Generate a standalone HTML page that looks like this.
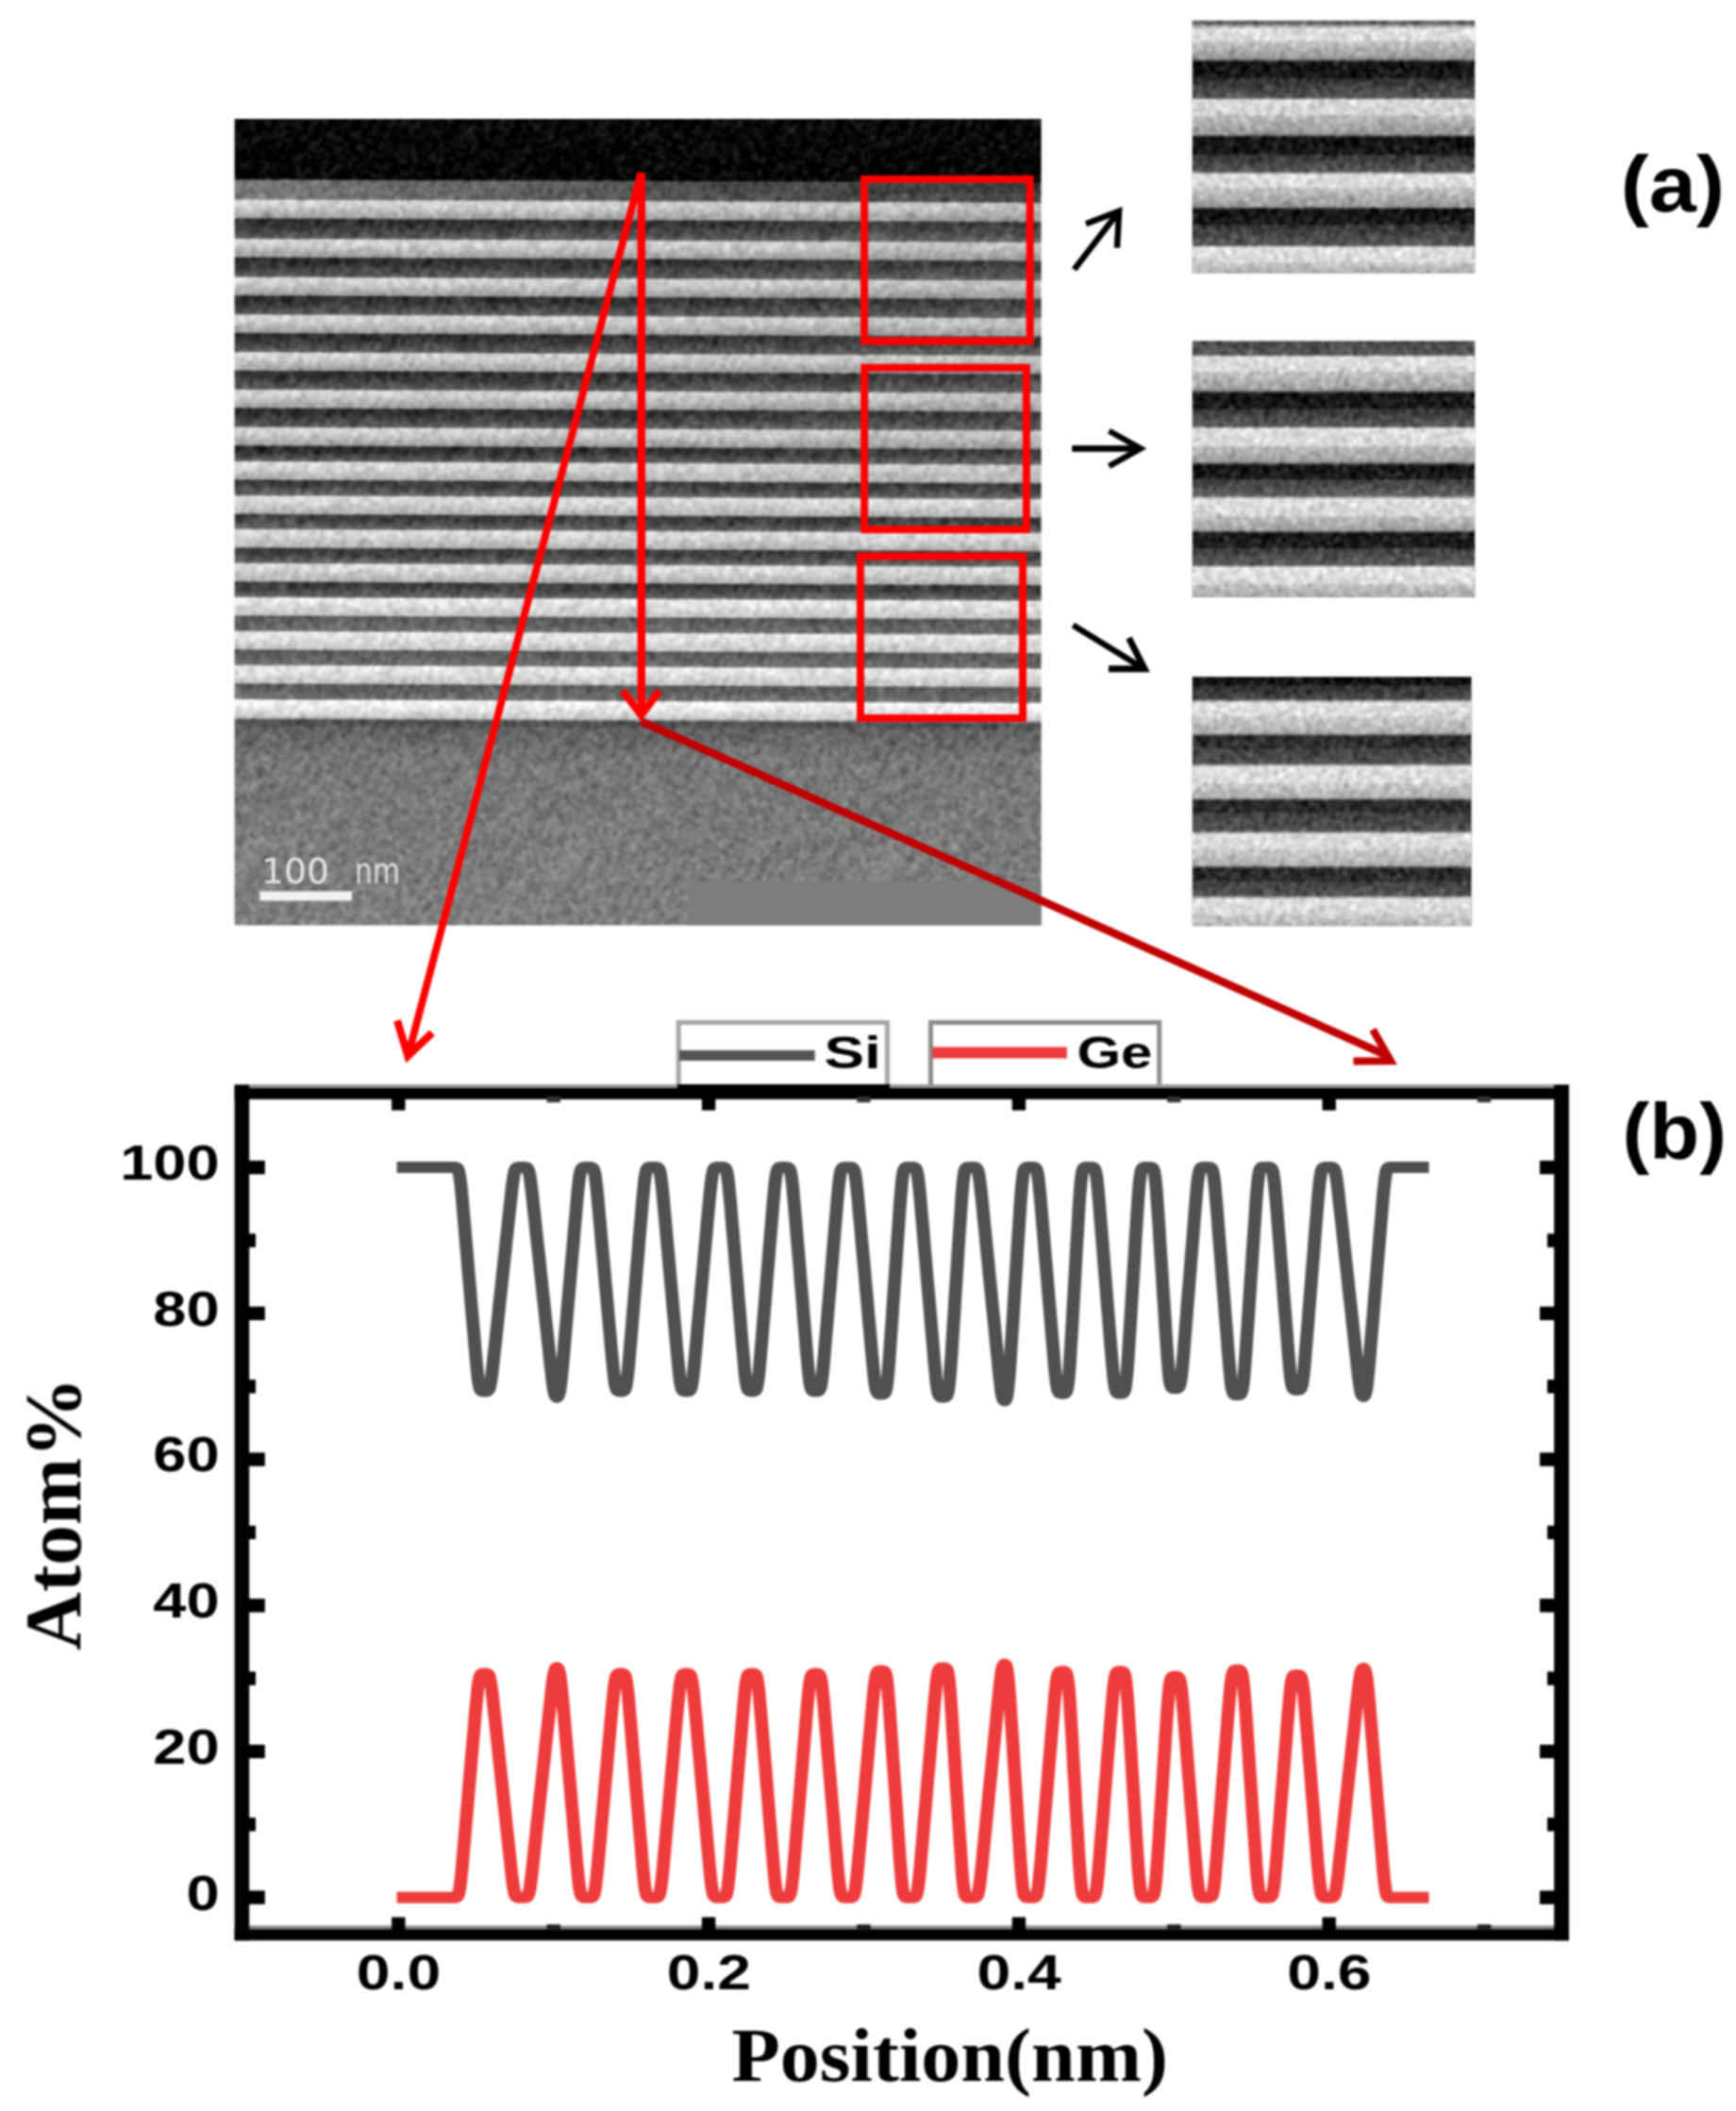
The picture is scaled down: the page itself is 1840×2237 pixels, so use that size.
<!DOCTYPE html>
<html lang="en"><head><meta charset="utf-8"><title>Si/Ge superlattice figure</title>
<style>html,body{margin:0;padding:0;background:#fff}svg{display:block}.sb{font-family:"Liberation Sans",sans-serif;font-weight:700}.tb{font-family:"Liberation Serif",serif;font-weight:700}.dv{font-family:"DejaVu Sans","Liberation Sans",sans-serif}</style></head><body>
<svg width="1840" height="2237" viewBox="0 0 1840 2237">
<defs>
<linearGradient id="gtem" gradientUnits="userSpaceOnUse" x1="0" y1="126.00" x2="0" y2="980.50"><stop offset="0.00000" stop-color="#090909"/><stop offset="0.07373" stop-color="#050505"/><stop offset="0.07665" stop-color="#606060"/><stop offset="0.09830" stop-color="#686868"/><stop offset="0.10181" stop-color="#d6d6d6"/><stop offset="0.10825" stop-color="#d0d0d0"/><stop offset="0.10825" stop-color="#d0d0d0"/><stop offset="0.12229" stop-color="#9e9e9e"/><stop offset="0.12463" stop-color="#2a2a2a"/><stop offset="0.13107" stop-color="#303030"/><stop offset="0.13107" stop-color="#303030"/><stop offset="0.14769" stop-color="#5c5c5c"/><stop offset="0.15003" stop-color="#d6d6d6"/><stop offset="0.15647" stop-color="#d0d0d0"/><stop offset="0.15647" stop-color="#d0d0d0"/><stop offset="0.17051" stop-color="#9e9e9e"/><stop offset="0.17285" stop-color="#2a2a2a"/><stop offset="0.17929" stop-color="#303030"/><stop offset="0.17929" stop-color="#303030"/><stop offset="0.19508" stop-color="#5c5c5c"/><stop offset="0.19743" stop-color="#d6d6d6"/><stop offset="0.20386" stop-color="#d0d0d0"/><stop offset="0.20386" stop-color="#d0d0d0"/><stop offset="0.21791" stop-color="#9e9e9e"/><stop offset="0.22025" stop-color="#2a2a2a"/><stop offset="0.22668" stop-color="#303030"/><stop offset="0.22668" stop-color="#303030"/><stop offset="0.24166" stop-color="#5c5c5c"/><stop offset="0.24400" stop-color="#d6d6d6"/><stop offset="0.25044" stop-color="#d0d0d0"/><stop offset="0.25044" stop-color="#d0d0d0"/><stop offset="0.26448" stop-color="#9e9e9e"/><stop offset="0.26682" stop-color="#2a2a2a"/><stop offset="0.27326" stop-color="#303030"/><stop offset="0.27326" stop-color="#303030"/><stop offset="0.28824" stop-color="#5c5c5c"/><stop offset="0.29058" stop-color="#d6d6d6"/><stop offset="0.29702" stop-color="#d0d0d0"/><stop offset="0.29702" stop-color="#d0d0d0"/><stop offset="0.31106" stop-color="#9e9e9e"/><stop offset="0.31340" stop-color="#2a2a2a"/><stop offset="0.31984" stop-color="#303030"/><stop offset="0.31984" stop-color="#303030"/><stop offset="0.33470" stop-color="#5c5c5c"/><stop offset="0.33704" stop-color="#d6d6d6"/><stop offset="0.34348" stop-color="#d0d0d0"/><stop offset="0.34348" stop-color="#d0d0d0"/><stop offset="0.35752" stop-color="#9e9e9e"/><stop offset="0.35986" stop-color="#2a2a2a"/><stop offset="0.36630" stop-color="#303030"/><stop offset="0.36630" stop-color="#303030"/><stop offset="0.38128" stop-color="#5c5c5c"/><stop offset="0.38362" stop-color="#d6d6d6"/><stop offset="0.39005" stop-color="#d0d0d0"/><stop offset="0.39005" stop-color="#d0d0d0"/><stop offset="0.40410" stop-color="#9e9e9e"/><stop offset="0.40644" stop-color="#2a2a2a"/><stop offset="0.41287" stop-color="#303030"/><stop offset="0.41287" stop-color="#303030"/><stop offset="0.42364" stop-color="#5c5c5c"/><stop offset="0.42598" stop-color="#dcdcdc"/><stop offset="0.43242" stop-color="#d6d6d6"/><stop offset="0.43242" stop-color="#d6d6d6"/><stop offset="0.44646" stop-color="#b0b0b0"/><stop offset="0.44880" stop-color="#3a3a3a"/><stop offset="0.45524" stop-color="#404040"/><stop offset="0.45524" stop-color="#404040"/><stop offset="0.46612" stop-color="#666666"/><stop offset="0.46846" stop-color="#dcdcdc"/><stop offset="0.47490" stop-color="#d6d6d6"/><stop offset="0.47490" stop-color="#d6d6d6"/><stop offset="0.48894" stop-color="#b0b0b0"/><stop offset="0.49128" stop-color="#3a3a3a"/><stop offset="0.49772" stop-color="#404040"/><stop offset="0.49772" stop-color="#404040"/><stop offset="0.50790" stop-color="#666666"/><stop offset="0.51024" stop-color="#dcdcdc"/><stop offset="0.51668" stop-color="#d6d6d6"/><stop offset="0.51668" stop-color="#d6d6d6"/><stop offset="0.53072" stop-color="#b0b0b0"/><stop offset="0.53306" stop-color="#3a3a3a"/><stop offset="0.53950" stop-color="#404040"/><stop offset="0.53950" stop-color="#404040"/><stop offset="0.55003" stop-color="#666666"/><stop offset="0.55237" stop-color="#dcdcdc"/><stop offset="0.55881" stop-color="#d6d6d6"/><stop offset="0.55881" stop-color="#d6d6d6"/><stop offset="0.57285" stop-color="#b0b0b0"/><stop offset="0.57519" stop-color="#3a3a3a"/><stop offset="0.58163" stop-color="#404040"/><stop offset="0.58163" stop-color="#404040"/><stop offset="0.59216" stop-color="#666666"/><stop offset="0.59450" stop-color="#e8e8e8"/><stop offset="0.60094" stop-color="#e2e2e2"/><stop offset="0.60094" stop-color="#e2e2e2"/><stop offset="0.61498" stop-color="#c4c4c4"/><stop offset="0.61732" stop-color="#585858"/><stop offset="0.62376" stop-color="#5e5e5e"/><stop offset="0.62376" stop-color="#5e5e5e"/><stop offset="0.63429" stop-color="#707070"/><stop offset="0.63663" stop-color="#e8e8e8"/><stop offset="0.64307" stop-color="#e2e2e2"/><stop offset="0.64307" stop-color="#e2e2e2"/><stop offset="0.65711" stop-color="#c4c4c4"/><stop offset="0.65945" stop-color="#585858"/><stop offset="0.66589" stop-color="#5e5e5e"/><stop offset="0.66589" stop-color="#5e5e5e"/><stop offset="0.67642" stop-color="#707070"/><stop offset="0.67876" stop-color="#e8e8e8"/><stop offset="0.68520" stop-color="#e2e2e2"/><stop offset="0.68520" stop-color="#e2e2e2"/><stop offset="0.69924" stop-color="#c4c4c4"/><stop offset="0.70158" stop-color="#585858"/><stop offset="0.70802" stop-color="#5e5e5e"/><stop offset="0.70802" stop-color="#5e5e5e"/><stop offset="0.71890" stop-color="#707070"/><stop offset="0.72124" stop-color="#f4f4f4"/><stop offset="0.72768" stop-color="#eeeeee"/><stop offset="0.72768" stop-color="#eeeeee"/><stop offset="0.74172" stop-color="#c8c8c8"/><stop offset="0.74605" stop-color="#4c4c4c"/><stop offset="0.75366" stop-color="#585858"/><stop offset="0.75366" stop-color="#606060"/><stop offset="0.78877" stop-color="#747474"/><stop offset="0.78877" stop-color="#767676"/><stop offset="1.00000" stop-color="#7e7e7e"/></linearGradient>
<linearGradient id="gin1" gradientUnits="userSpaceOnUse" x1="0" y1="21.80" x2="0" y2="289.30"><stop offset="0.00000" stop-color="#606060"/><stop offset="0.01383" stop-color="#646464"/><stop offset="0.01944" stop-color="#a0a0a0"/><stop offset="0.03065" stop-color="#c8c8c8"/><stop offset="0.03065" stop-color="#e0e0e0"/><stop offset="0.08112" stop-color="#dadada"/><stop offset="0.08112" stop-color="#c8c8c8"/><stop offset="0.15028" stop-color="#969696"/><stop offset="0.16523" stop-color="#121212"/><stop offset="0.22879" stop-color="#1a1a1a"/><stop offset="0.22879" stop-color="#2c2c2c"/><stop offset="0.30542" stop-color="#585858"/><stop offset="0.31477" stop-color="#dadada"/><stop offset="0.37607" stop-color="#d4d4d4"/><stop offset="0.37607" stop-color="#bebebe"/><stop offset="0.44935" stop-color="#969696"/><stop offset="0.46355" stop-color="#121212"/><stop offset="0.53084" stop-color="#1a1a1a"/><stop offset="0.53084" stop-color="#323232"/><stop offset="0.59701" stop-color="#585858"/><stop offset="0.61084" stop-color="#e0e0e0"/><stop offset="0.66243" stop-color="#d8d8d8"/><stop offset="0.66243" stop-color="#c4c4c4"/><stop offset="0.73720" stop-color="#969696"/><stop offset="0.74841" stop-color="#121212"/><stop offset="0.81009" stop-color="#1c1c1c"/><stop offset="0.81009" stop-color="#323232"/><stop offset="0.88860" stop-color="#585858"/><stop offset="0.89981" stop-color="#e0e0e0"/><stop offset="0.95738" stop-color="#d8d8d8"/><stop offset="0.95738" stop-color="#cccccc"/><stop offset="1.00000" stop-color="#aaaaaa"/></linearGradient>
<linearGradient id="gin2" gradientUnits="userSpaceOnUse" x1="0" y1="361.40" x2="0" y2="632.80"><stop offset="0.00000" stop-color="#464646"/><stop offset="0.05195" stop-color="#585858"/><stop offset="0.06301" stop-color="#e0e0e0"/><stop offset="0.11975" stop-color="#d8d8d8"/><stop offset="0.11975" stop-color="#c4c4c4"/><stop offset="0.19013" stop-color="#9e9e9e"/><stop offset="0.20523" stop-color="#141414"/><stop offset="0.26492" stop-color="#1c1c1c"/><stop offset="0.26492" stop-color="#343434"/><stop offset="0.33198" stop-color="#5a5a5a"/><stop offset="0.34304" stop-color="#e0e0e0"/><stop offset="0.41010" stop-color="#d6d6d6"/><stop offset="0.41010" stop-color="#bebebe"/><stop offset="0.47015" stop-color="#9e9e9e"/><stop offset="0.48674" stop-color="#141414"/><stop offset="0.54016" stop-color="#1e1e1e"/><stop offset="0.54016" stop-color="#3c3c3c"/><stop offset="0.60280" stop-color="#606060"/><stop offset="0.61791" stop-color="#e0e0e0"/><stop offset="0.68534" stop-color="#d6d6d6"/><stop offset="0.68534" stop-color="#c0c0c0"/><stop offset="0.73729" stop-color="#a0a0a0"/><stop offset="0.75166" stop-color="#181818"/><stop offset="0.80766" stop-color="#202020"/><stop offset="0.80766" stop-color="#3c3c3c"/><stop offset="0.87362" stop-color="#5c5c5c"/><stop offset="0.88467" stop-color="#e4e4e4"/><stop offset="0.94878" stop-color="#d8d8d8"/><stop offset="0.94878" stop-color="#c4c4c4"/><stop offset="1.00000" stop-color="#a8a8a8"/></linearGradient>
<linearGradient id="gin3" gradientUnits="userSpaceOnUse" x1="0" y1="717.20" x2="0" y2="981.20"><stop offset="0.00000" stop-color="#0e0e0e"/><stop offset="0.03371" stop-color="#161616"/><stop offset="0.03371" stop-color="#2c2c2c"/><stop offset="0.08826" stop-color="#484848"/><stop offset="0.10455" stop-color="#e0e0e0"/><stop offset="0.15947" stop-color="#dadada"/><stop offset="0.15947" stop-color="#cccccc"/><stop offset="0.22462" stop-color="#b0b0b0"/><stop offset="0.24015" stop-color="#2a2a2a"/><stop offset="0.28523" stop-color="#303030"/><stop offset="0.28523" stop-color="#3e3e3e"/><stop offset="0.34583" stop-color="#525252"/><stop offset="0.36212" stop-color="#e0e0e0"/><stop offset="0.42652" stop-color="#dadada"/><stop offset="0.42652" stop-color="#cccccc"/><stop offset="0.48409" stop-color="#b0b0b0"/><stop offset="0.49886" stop-color="#282828"/><stop offset="0.54432" stop-color="#2e2e2e"/><stop offset="0.54432" stop-color="#3e3e3e"/><stop offset="0.61667" stop-color="#525252"/><stop offset="0.63220" stop-color="#dedede"/><stop offset="0.69356" stop-color="#d8d8d8"/><stop offset="0.69356" stop-color="#cccccc"/><stop offset="0.75492" stop-color="#b0b0b0"/><stop offset="0.77045" stop-color="#282828"/><stop offset="0.81932" stop-color="#2e2e2e"/><stop offset="0.81932" stop-color="#3e3e3e"/><stop offset="0.87614" stop-color="#525252"/><stop offset="0.89242" stop-color="#e0e0e0"/><stop offset="0.95265" stop-color="#d8d8d8"/><stop offset="0.95265" stop-color="#cecece"/><stop offset="1.00000" stop-color="#b4b4b4"/></linearGradient>
<linearGradient id="gdim" x1="0" y1="0" x2="1" y2="0"><stop offset="0" stop-color="#787878"/><stop offset="0.25" stop-color="#686868"/><stop offset="0.5" stop-color="#525252"/><stop offset="0.8" stop-color="#404040"/><stop offset="1" stop-color="#3a3a3a"/></linearGradient>
<linearGradient id="gfade" x1="0" y1="0" x2="1" y2="0"><stop offset="0" stop-color="#808080" stop-opacity="0"/><stop offset="0.45" stop-color="#808080" stop-opacity="0.04"/><stop offset="1" stop-color="#808080" stop-opacity="0.22"/></linearGradient>
<clipPath id="ctem"><rect x="248.6" y="126.0" width="855.0" height="854.5"/></clipPath>
<filter id="noise" x="0" y="0" width="100%" height="100%" color-interpolation-filters="sRGB"><feTurbulence type="fractalNoise" baseFrequency="0.75" numOctaves="1" seed="5" result="t"/><feGaussianBlur in="t" stdDeviation="2.0" result="tb"/><feColorMatrix in="tb" type="matrix" values="1 0 0 0 0  1 0 0 0 0  1 0 0 0 0  0 0 0 0 1" result="n"/><feComposite in="SourceGraphic" in2="n" operator="arithmetic" k1="0" k2="1" k3="5.5" k4="-2.75"/><feComposite in2="SourceGraphic" operator="in"/></filter>
<filter id="noise2" x="0" y="0" width="100%" height="100%" color-interpolation-filters="sRGB"><feTurbulence type="fractalNoise" baseFrequency="0.6" numOctaves="1" seed="9" result="t"/><feGaussianBlur in="t" stdDeviation="2.2" result="tb"/><feColorMatrix in="tb" type="matrix" values="1 0 0 0 0  1 0 0 0 0  1 0 0 0 0  0 0 0 0 1" result="n"/><feComposite in="SourceGraphic" in2="n" operator="arithmetic" k1="0" k2="1" k3="5.225" k4="-2.6125"/><feComposite in2="SourceGraphic" operator="in"/></filter>
<filter id="allblur" x="0" y="0" width="100%" height="100%" filterUnits="userSpaceOnUse" color-interpolation-filters="sRGB"><feGaussianBlur stdDeviation="0.85"/></filter>
<filter id="soft"><feGaussianBlur stdDeviation="0.7"/></filter>
</defs>
<rect width="1840" height="2237" fill="#fff"/>
<g filter="url(#allblur)">
<g clip-path="url(#ctem)"><g filter="url(#noise)">
<rect x="248.6" y="126.0" width="855.0" height="854.5" fill="#777"/>
<g transform="translate(0,-1.35) skewY(0.26)">
<rect x="200" y="100" width="960" height="920" fill="url(#gtem)"/>
<rect x="248.6" y="191.2" width="855.0" height="19.3" fill="url(#gdim)"/>
</g>
<rect x="248.6" y="205" width="855.0" height="300" fill="url(#gfade)"/>
</g>
<rect x="729" y="933.6" width="380" height="50" fill="#7d7d7d"/>
</g>
<rect x="275.5" y="944.5" width="97.5" height="10" fill="#f2f2f2" stroke="#bdbdbd" stroke-width="1"/>
<g filter="url(#soft)"><text class="dv" x="277" y="935.5" font-size="38" fill="#e6e6e6" textLength="72" lengthAdjust="spacingAndGlyphs">100</text><text class="dv" x="376" y="935.5" font-size="38" fill="#e0e0e0" textLength="48" lengthAdjust="spacingAndGlyphs">nm</text></g>
<g filter="url(#noise2)">
<rect x="1263.8" y="21.8" width="299.4" height="267.5" fill="url(#gin1)"/>
<rect x="1263.8" y="361.4" width="299.4" height="271.4" fill="url(#gin2)"/>
<rect x="1263.8" y="717.2" width="295.7" height="264.0" fill="url(#gin3)"/>
</g>
<rect x="916.1" y="189.9" width="175.6" height="171.5" fill="none" stroke="#ff0000" stroke-width="8"/>
<rect x="916.2" y="389.6" width="171.7" height="171.5" fill="none" stroke="#ff0000" stroke-width="8"/>
<rect x="912.0" y="589.5" width="172.0" height="171.5" fill="none" stroke="#ff0000" stroke-width="8"/>
<g fill="none" stroke="#ff0000" stroke-width="8.5" stroke-linecap="butt" stroke-linejoin="miter" stroke-miterlimit="10">
<path d="M679.8,183 L679.8,756"/>
<path d="M660,732 L679.6,757.8 L699,732" stroke-width="8"/>
<path d="M679.5,183 L433.2,1116" stroke-width="7.9"/>
<path d="M421,1081.5 L432.3,1119 L458,1094.5" stroke-width="8"/>
</g>
<g fill="none" stroke="#c00000" stroke-width="8.5" stroke-miterlimit="10">
<path d="M679.5,764.3 L1468,1117.6"/>
<path d="M1455,1091 L1474,1124.3 L1434.5,1124.5" stroke-width="8"/>
</g>
<g fill="none" stroke="#000" stroke-linecap="butt" stroke-miterlimit="10">
<path d="M1138.5,285.6 L1183.5,227.2" stroke-width="6.4"/><path d="M1151,237.2 L1186.1,223.8 L1184,262.6" stroke-width="6.4"/>
<path d="M1136.2,475.3 L1205,475.3" stroke-width="6.8"/><path d="M1175.5,456.6 L1209,475.3 L1175.5,494" stroke-width="6.2"/>
<path d="M1137.3,662.5 L1208,706" stroke-width="6.4"/><path d="M1196.5,676 L1213.1,708.7 L1175,708.7" stroke-width="7"/>
</g>
<text class="sb" transform="translate(1717.8,224) scale(1.087,1)" font-size="83">(a)</text>
<text class="sb" transform="translate(1719.4,1227.5) scale(1.045,1)" font-size="83">(b)</text>
<rect x="719.2" y="1083.5" width="221.2" height="70" fill="#fff" stroke="#a6a6a6" stroke-width="5"/>
<rect x="986.5" y="1083.5" width="242.3" height="70" fill="#fff" stroke="#8c8c8c" stroke-width="5"/>
<line x1="720" y1="1118.5" x2="863.7" y2="1118.5" stroke="#555" stroke-width="11"/>
<line x1="988.4" y1="1115.6" x2="1131" y2="1115.6" stroke="#ee3c3c" stroke-width="12"/>
<text class="sb" transform="translate(873.4,1132) scale(1.35,1)" font-size="47.4">Si</text>
<text class="sb" transform="translate(1141.4,1132) scale(1.265,1)" font-size="47.4">Ge</text>
<g transform="scale(1.15,1)" fill="none" stroke-width="12" stroke-linejoin="round">
<path d="M365.7,1237.1 L366.5,1237.1 L367.4,1237.1 L368.3,1237.1 L369.1,1237.1 L370.0,1237.1 L370.9,1237.1 L371.7,1237.1 L372.6,1237.1 L373.5,1237.1 L374.3,1237.1 L375.2,1237.1 L376.1,1237.1 L377.0,1237.1 L377.8,1237.1 L378.7,1237.1 L379.6,1237.1 L380.4,1237.1 L381.3,1237.1 L382.2,1237.1 L383.0,1237.1 L383.9,1237.1 L384.8,1237.1 L385.7,1237.1 L386.5,1237.1 L387.4,1237.1 L388.3,1237.1 L389.1,1237.1 L390.0,1237.1 L390.9,1237.1 L391.7,1237.1 L392.6,1237.1 L393.5,1237.1 L394.3,1237.1 L395.2,1237.1 L396.1,1237.1 L397.0,1237.1 L397.8,1237.1 L398.7,1237.1 L399.6,1237.1 L400.4,1237.1 L401.3,1237.1 L402.2,1237.1 L403.0,1237.1 L403.9,1237.1 L404.8,1237.1 L405.7,1237.1 L406.5,1237.1 L407.4,1237.1 L408.3,1237.1 L409.1,1237.1 L410.0,1237.1 L410.9,1237.1 L411.7,1237.1 L412.6,1237.1 L413.5,1237.1 L414.3,1237.1 L415.2,1237.1 L416.1,1237.1 L417.0,1237.1 L417.8,1237.1 L418.7,1237.1 L419.6,1237.1 L420.4,1237.2 L421.3,1237.7 L422.2,1239.1 L423.0,1242.3 L423.9,1248.1 L424.8,1256.4 L425.7,1266.6 L426.5,1277.7 L427.4,1289.2 L428.3,1300.7 L429.1,1312.3 L430.0,1323.8 L430.9,1335.4 L431.7,1347.0 L432.6,1358.5 L433.5,1370.1 L434.3,1381.7 L435.2,1393.2 L436.1,1404.8 L437.0,1416.4 L437.8,1427.9 L438.7,1439.2 L439.6,1449.9 L440.4,1459.3 L441.3,1466.4 L442.2,1470.9 L443.0,1473.1 L443.9,1473.9 L444.8,1474.2 L445.7,1474.2 L446.5,1474.2 L447.4,1474.2 L448.3,1474.2 L449.1,1474.0 L450.0,1473.3 L450.9,1471.5 L451.7,1467.9 L452.6,1462.2 L453.5,1454.7 L454.3,1446.1 L455.2,1437.0 L456.1,1427.7 L457.0,1418.4 L457.8,1409.1 L458.7,1399.8 L459.6,1390.5 L460.4,1381.2 L461.3,1371.9 L462.2,1362.6 L463.0,1353.3 L463.9,1344.0 L464.8,1334.7 L465.7,1325.4 L466.5,1316.1 L467.4,1306.8 L468.3,1297.5 L469.1,1288.2 L470.0,1279.0 L470.9,1269.8 L471.7,1260.8 L472.6,1252.7 L473.5,1246.0 L474.3,1241.3 L475.2,1238.7 L476.1,1237.6 L477.0,1237.2 L477.8,1237.1 L478.7,1237.1 L479.6,1237.1 L480.4,1237.1 L481.3,1237.1 L482.2,1237.1 L483.0,1237.1 L483.9,1237.1 L484.8,1237.2 L485.7,1237.6 L486.5,1238.7 L487.4,1241.3 L488.3,1245.9 L489.1,1252.6 L490.0,1260.8 L490.9,1269.7 L491.7,1278.9 L492.6,1288.1 L493.5,1297.4 L494.3,1306.7 L495.2,1316.0 L496.1,1325.3 L497.0,1334.5 L497.8,1343.8 L498.7,1353.1 L499.6,1362.4 L500.4,1371.7 L501.3,1380.9 L502.2,1390.2 L503.0,1399.5 L503.9,1408.8 L504.8,1418.1 L505.7,1427.3 L506.5,1436.6 L507.4,1445.8 L508.3,1454.9 L509.1,1463.3 L510.0,1470.5 L510.9,1475.7 L511.7,1478.9 L512.6,1480.4 L513.5,1480.6 L514.3,1479.7 L515.2,1477.1 L516.1,1472.2 L517.0,1464.6 L517.8,1455.1 L518.7,1444.3 L519.6,1433.0 L520.4,1421.6 L521.3,1410.1 L522.2,1398.7 L523.0,1387.2 L523.9,1375.8 L524.8,1364.3 L525.7,1352.8 L526.5,1341.4 L527.4,1329.9 L528.3,1318.5 L529.1,1307.0 L530.0,1295.5 L530.9,1284.1 L531.7,1272.9 L532.6,1262.2 L533.5,1252.7 L534.3,1245.5 L535.2,1240.8 L536.1,1238.4 L537.0,1237.5 L537.8,1237.2 L538.7,1237.1 L539.6,1237.1 L540.4,1237.1 L541.3,1237.1 L542.2,1237.1 L543.0,1237.1 L543.9,1237.1 L544.8,1237.1 L545.7,1237.4 L546.5,1238.1 L547.4,1240.0 L548.3,1244.1 L549.1,1250.6 L550.0,1259.4 L550.9,1269.6 L551.7,1280.4 L552.6,1291.4 L553.5,1302.5 L554.3,1313.6 L555.2,1324.6 L556.1,1335.7 L557.0,1346.8 L557.8,1357.9 L558.7,1368.9 L559.6,1380.0 L560.4,1391.1 L561.3,1402.2 L562.2,1413.3 L563.0,1424.3 L563.9,1435.3 L564.8,1445.9 L565.7,1455.7 L566.5,1463.7 L567.4,1469.2 L568.3,1472.3 L569.1,1473.6 L570.0,1474.1 L570.9,1474.2 L571.7,1474.2 L572.6,1474.2 L573.5,1474.2 L574.3,1474.1 L575.2,1473.6 L576.1,1472.2 L577.0,1468.8 L577.8,1462.9 L578.7,1454.4 L579.6,1444.0 L580.4,1432.6 L581.3,1420.8 L582.2,1409.0 L583.0,1397.1 L583.9,1385.3 L584.8,1373.4 L585.7,1361.6 L586.5,1349.7 L587.4,1337.9 L588.3,1326.0 L589.1,1314.2 L590.0,1302.3 L590.9,1290.5 L591.7,1278.7 L592.6,1267.3 L593.5,1256.9 L594.3,1248.4 L595.2,1242.5 L596.1,1239.1 L597.0,1237.7 L597.8,1237.2 L598.7,1237.1 L599.6,1237.1 L600.4,1237.1 L601.3,1237.1 L602.2,1237.1 L603.0,1237.1 L603.9,1237.1 L604.8,1237.1 L605.7,1237.2 L606.5,1237.7 L607.4,1239.0 L608.3,1242.1 L609.1,1247.7 L610.0,1255.6 L610.9,1265.4 L611.7,1276.0 L612.6,1287.0 L613.5,1298.0 L614.3,1309.1 L615.2,1320.2 L616.1,1331.3 L617.0,1342.4 L617.8,1353.4 L618.7,1364.5 L619.6,1375.6 L620.4,1386.7 L621.3,1397.8 L622.2,1408.8 L623.0,1419.9 L623.9,1430.9 L624.8,1441.7 L625.7,1451.9 L626.5,1460.7 L627.4,1467.2 L628.3,1471.3 L629.1,1473.2 L630.0,1474.0 L630.9,1474.2 L631.7,1474.2 L632.6,1474.2 L633.5,1474.2 L634.3,1474.1 L635.2,1473.9 L636.1,1473.0 L637.0,1470.7 L637.8,1466.2 L638.7,1459.2 L639.6,1450.2 L640.4,1439.9 L641.3,1429.2 L642.2,1418.2 L643.0,1407.2 L643.9,1396.3 L644.8,1385.3 L645.7,1374.3 L646.5,1363.3 L647.4,1352.4 L648.3,1341.4 L649.1,1330.4 L650.0,1319.4 L650.9,1308.5 L651.7,1297.5 L652.6,1286.5 L653.5,1275.6 L654.3,1265.1 L655.2,1255.5 L656.1,1247.6 L657.0,1242.1 L657.8,1239.0 L658.7,1237.7 L659.6,1237.2 L660.4,1237.1 L661.3,1237.1 L662.2,1237.1 L663.0,1237.1 L663.9,1237.1 L664.8,1237.1 L665.7,1237.1 L666.5,1237.1 L667.4,1237.2 L668.3,1237.7 L669.1,1239.1 L670.0,1242.5 L670.9,1248.4 L671.7,1256.9 L672.6,1267.3 L673.5,1278.7 L674.3,1290.5 L675.2,1302.3 L676.1,1314.2 L677.0,1326.0 L677.8,1337.9 L678.7,1349.7 L679.6,1361.6 L680.4,1373.4 L681.3,1385.3 L682.2,1397.1 L683.0,1409.0 L683.9,1420.8 L684.8,1432.6 L685.7,1444.0 L686.5,1454.4 L687.4,1462.9 L688.3,1468.8 L689.1,1472.2 L690.0,1473.6 L690.9,1474.1 L691.7,1474.2 L692.6,1474.2 L693.5,1474.2 L694.3,1474.2 L695.2,1474.1 L696.1,1473.6 L697.0,1472.1 L697.8,1468.7 L698.7,1462.7 L699.6,1454.0 L700.4,1443.3 L701.3,1431.7 L702.2,1419.7 L703.0,1407.7 L703.9,1395.6 L704.8,1383.5 L705.7,1371.4 L706.5,1359.3 L707.4,1347.2 L708.3,1335.1 L709.1,1323.0 L710.0,1310.9 L710.9,1298.8 L711.7,1286.8 L712.6,1274.9 L713.5,1263.6 L714.3,1253.6 L715.2,1245.9 L716.1,1241.0 L717.0,1238.5 L717.8,1237.5 L718.7,1237.2 L719.6,1237.1 L720.4,1237.1 L721.3,1237.1 L722.2,1237.1 L723.0,1237.1 L723.9,1237.1 L724.8,1237.1 L725.7,1237.2 L726.5,1237.4 L727.4,1238.2 L728.3,1240.3 L729.1,1244.6 L730.0,1251.6 L730.9,1261.1 L731.7,1272.0 L732.6,1283.6 L733.5,1295.5 L734.3,1307.4 L735.2,1319.3 L736.1,1331.2 L737.0,1343.1 L737.8,1355.1 L738.7,1367.0 L739.6,1378.9 L740.4,1390.8 L741.3,1402.7 L742.2,1414.6 L743.0,1426.5 L743.9,1438.2 L744.8,1449.2 L745.7,1458.9 L746.5,1466.2 L747.4,1470.8 L748.3,1473.0 L749.1,1473.9 L750.0,1474.1 L750.9,1474.2 L751.7,1474.2 L752.6,1474.2 L753.5,1474.1 L754.3,1473.9 L755.2,1473.0 L756.1,1470.8 L757.0,1466.2 L757.8,1458.9 L758.7,1449.2 L759.6,1438.2 L760.4,1426.5 L761.3,1414.6 L762.2,1402.7 L763.0,1390.8 L763.9,1378.9 L764.8,1367.0 L765.7,1355.1 L766.5,1343.1 L767.4,1331.2 L768.3,1319.3 L769.1,1307.4 L770.0,1295.5 L770.9,1283.6 L771.7,1272.0 L772.6,1261.1 L773.5,1251.6 L774.3,1244.6 L775.2,1240.3 L776.1,1238.2 L777.0,1237.4 L777.8,1237.2 L778.7,1237.1 L779.6,1237.1 L780.4,1237.1 L781.3,1237.1 L782.2,1237.1 L783.0,1237.1 L783.9,1237.1 L784.8,1237.2 L785.7,1237.4 L786.5,1238.4 L787.4,1240.7 L788.3,1245.2 L789.1,1252.3 L790.0,1261.4 L790.9,1271.8 L791.7,1282.7 L792.6,1293.8 L793.5,1304.9 L794.3,1316.1 L795.2,1327.2 L796.1,1338.3 L797.0,1349.4 L797.8,1360.5 L798.7,1371.7 L799.6,1382.8 L800.4,1393.9 L801.3,1405.0 L802.2,1416.1 L803.0,1427.2 L803.9,1438.3 L804.8,1448.9 L805.7,1458.7 L806.5,1466.7 L807.4,1472.3 L808.3,1475.4 L809.1,1476.7 L810.0,1477.2 L810.9,1477.3 L811.7,1477.3 L812.6,1477.3 L813.5,1477.3 L814.3,1477.1 L815.2,1476.6 L816.1,1474.8 L817.0,1470.8 L817.8,1463.5 L818.7,1453.1 L819.6,1440.4 L820.4,1426.5 L821.3,1412.2 L822.2,1397.7 L823.0,1383.2 L823.9,1368.8 L824.8,1354.3 L825.7,1339.8 L826.5,1325.4 L827.4,1310.9 L828.3,1296.5 L829.1,1282.3 L830.0,1268.8 L830.9,1256.9 L831.7,1247.6 L832.6,1241.7 L833.5,1238.7 L834.3,1237.5 L835.2,1237.2 L836.1,1237.1 L837.0,1237.1 L837.8,1237.1 L838.7,1237.1 L839.6,1237.1 L840.4,1237.1 L841.3,1237.1 L842.2,1237.1 L843.0,1237.4 L843.9,1238.1 L844.8,1240.2 L845.7,1244.4 L846.5,1251.2 L847.4,1260.4 L848.3,1271.1 L849.1,1282.4 L850.0,1293.9 L850.9,1305.5 L851.7,1317.0 L852.6,1328.6 L853.5,1340.2 L854.3,1351.8 L855.2,1363.4 L856.1,1375.0 L857.0,1386.6 L857.8,1398.1 L858.7,1409.7 L859.6,1421.3 L860.4,1432.8 L861.3,1444.2 L862.2,1455.0 L863.0,1464.6 L863.9,1472.0 L864.8,1476.7 L865.7,1479.1 L866.5,1480.0 L867.4,1480.3 L868.3,1480.4 L869.1,1480.4 L870.0,1480.4 L870.9,1480.3 L871.7,1480.0 L872.6,1479.0 L873.5,1476.3 L874.3,1470.7 L875.2,1461.5 L876.1,1449.2 L877.0,1435.0 L877.8,1419.9 L878.7,1404.4 L879.6,1389.0 L880.4,1373.5 L881.3,1358.0 L882.2,1342.5 L883.0,1327.0 L883.9,1311.5 L884.8,1296.1 L885.7,1281.0 L886.5,1267.0 L887.4,1255.0 L888.3,1246.2 L889.1,1240.8 L890.0,1238.3 L890.9,1237.4 L891.7,1237.2 L892.6,1237.1 L893.5,1237.1 L894.3,1237.1 L895.2,1237.1 L896.1,1237.1 L897.0,1237.1 L897.8,1237.1 L898.7,1237.2 L899.6,1237.5 L900.4,1238.4 L901.3,1240.7 L902.2,1245.0 L903.0,1251.6 L903.9,1260.0 L904.8,1269.4 L905.7,1279.3 L906.5,1289.3 L907.4,1299.3 L908.3,1309.4 L909.1,1319.4 L910.0,1329.4 L910.9,1339.5 L911.7,1349.5 L912.6,1359.6 L913.5,1369.6 L914.3,1379.6 L915.2,1389.7 L916.1,1399.7 L917.0,1409.8 L917.8,1419.8 L918.7,1429.8 L919.6,1439.8 L920.4,1449.8 L921.3,1459.4 L922.2,1468.2 L923.0,1475.5 L923.9,1480.5 L924.8,1483.3 L925.7,1484.3 L926.5,1484.1 L927.4,1482.3 L928.3,1478.0 L929.1,1470.3 L930.0,1459.1 L930.9,1445.5 L931.7,1430.6 L932.6,1415.3 L933.5,1399.8 L934.3,1384.3 L935.2,1368.8 L936.1,1353.3 L937.0,1337.8 L937.8,1322.3 L938.7,1306.9 L939.6,1291.5 L940.4,1276.6 L941.3,1263.0 L942.2,1251.9 L943.0,1244.1 L943.9,1239.8 L944.8,1237.9 L945.7,1237.3 L946.5,1237.1 L947.4,1237.1 L948.3,1237.1 L949.1,1237.1 L950.0,1237.1 L950.9,1237.1 L951.7,1237.1 L952.6,1237.1 L953.5,1237.2 L954.3,1237.7 L955.2,1239.1 L956.1,1242.5 L957.0,1248.4 L957.8,1256.9 L958.7,1267.3 L959.6,1278.7 L960.4,1290.5 L961.3,1302.3 L962.2,1314.1 L963.0,1326.0 L963.9,1337.8 L964.8,1349.7 L965.7,1361.6 L966.5,1373.4 L967.4,1385.3 L968.3,1397.1 L969.1,1409.0 L970.0,1420.8 L970.9,1432.6 L971.7,1444.0 L972.6,1454.7 L973.5,1463.6 L974.3,1470.1 L975.2,1473.9 L976.1,1475.7 L977.0,1476.3 L977.8,1476.5 L978.7,1476.5 L979.6,1476.5 L980.4,1476.5 L981.3,1476.4 L982.2,1475.8 L983.0,1474.1 L983.9,1469.8 L984.8,1461.9 L985.7,1450.2 L986.5,1435.4 L987.4,1419.0 L988.3,1401.9 L989.1,1384.6 L990.0,1367.2 L990.9,1349.9 L991.7,1332.5 L992.6,1315.2 L993.5,1298.0 L994.3,1281.4 L995.2,1266.1 L996.1,1253.6 L997.0,1244.9 L997.8,1240.1 L998.7,1238.0 L999.6,1237.3 L1000.4,1237.1 L1001.3,1237.1 L1002.2,1237.1 L1003.0,1237.1 L1003.9,1237.1 L1004.8,1237.1 L1005.7,1237.1 L1006.5,1237.1 L1007.4,1237.2 L1008.3,1237.7 L1009.1,1239.2 L1010.0,1242.7 L1010.9,1248.9 L1011.7,1257.7 L1012.6,1268.6 L1013.5,1280.4 L1014.3,1292.7 L1015.2,1305.0 L1016.1,1317.3 L1017.0,1329.7 L1017.8,1342.0 L1018.7,1354.3 L1019.6,1366.7 L1020.4,1379.0 L1021.3,1391.4 L1022.2,1403.7 L1023.0,1416.0 L1023.9,1428.3 L1024.8,1440.4 L1025.7,1451.7 L1026.5,1461.5 L1027.4,1468.8 L1028.3,1473.3 L1029.1,1475.4 L1030.0,1476.3 L1030.9,1476.5 L1031.7,1476.5 L1032.6,1476.5 L1033.5,1476.5 L1034.3,1476.4 L1035.2,1476.0 L1036.1,1474.7 L1037.0,1471.4 L1037.8,1464.8 L1038.7,1454.6 L1039.6,1441.4 L1040.4,1426.4 L1041.3,1410.6 L1042.2,1394.6 L1043.0,1378.5 L1043.9,1362.4 L1044.8,1346.4 L1045.7,1330.3 L1046.5,1314.3 L1047.4,1298.3 L1048.3,1282.7 L1049.1,1268.1 L1050.0,1255.6 L1050.9,1246.5 L1051.7,1241.0 L1052.6,1238.4 L1053.5,1237.4 L1054.3,1237.2 L1055.2,1237.1 L1056.1,1237.1 L1057.0,1237.1 L1057.8,1237.1 L1058.7,1237.1 L1059.6,1237.1 L1060.4,1237.1 L1061.3,1237.2 L1062.2,1237.7 L1063.0,1239.1 L1063.9,1242.5 L1064.8,1249.2 L1065.7,1259.3 L1066.5,1272.2 L1067.4,1286.7 L1068.3,1301.8 L1069.1,1317.2 L1070.0,1332.6 L1070.9,1347.9 L1071.7,1363.3 L1072.6,1378.7 L1073.5,1394.1 L1074.3,1409.5 L1075.2,1424.5 L1076.1,1438.8 L1077.0,1451.3 L1077.8,1460.8 L1078.7,1466.7 L1079.6,1469.6 L1080.4,1470.7 L1081.3,1471.0 L1082.2,1471.1 L1083.0,1471.1 L1083.9,1471.1 L1084.8,1471.1 L1085.7,1470.8 L1086.5,1469.9 L1087.4,1467.5 L1088.3,1462.7 L1089.1,1455.1 L1090.0,1445.0 L1090.9,1433.5 L1091.7,1421.3 L1092.6,1408.9 L1093.5,1396.4 L1094.3,1384.0 L1095.2,1371.5 L1096.1,1359.1 L1097.0,1346.6 L1097.8,1334.2 L1098.7,1321.7 L1099.6,1309.3 L1100.4,1296.9 L1101.3,1284.5 L1102.2,1272.4 L1103.0,1261.1 L1103.9,1251.5 L1104.8,1244.4 L1105.7,1240.1 L1106.5,1238.1 L1107.4,1237.3 L1108.3,1237.1 L1109.1,1237.1 L1110.0,1237.1 L1110.9,1237.1 L1111.7,1237.1 L1112.6,1237.1 L1113.5,1237.1 L1114.3,1237.1 L1115.2,1237.2 L1116.1,1237.6 L1117.0,1238.7 L1117.8,1241.6 L1118.7,1247.0 L1119.6,1255.3 L1120.4,1265.9 L1121.3,1277.7 L1122.2,1290.1 L1123.0,1302.7 L1123.9,1315.3 L1124.8,1327.9 L1125.7,1340.6 L1126.5,1353.2 L1127.4,1365.8 L1128.3,1378.4 L1129.1,1391.0 L1130.0,1403.6 L1130.9,1416.2 L1131.7,1428.8 L1132.6,1441.1 L1133.5,1452.7 L1134.3,1462.7 L1135.2,1470.1 L1136.1,1474.7 L1137.0,1477.0 L1137.8,1477.8 L1138.7,1478.0 L1139.6,1478.1 L1140.4,1478.1 L1141.3,1478.1 L1142.2,1478.0 L1143.0,1477.6 L1143.9,1476.4 L1144.8,1473.4 L1145.7,1467.4 L1146.5,1458.0 L1147.4,1445.9 L1148.3,1432.2 L1149.1,1417.8 L1150.0,1403.1 L1150.9,1388.4 L1151.7,1373.8 L1152.6,1359.1 L1153.5,1344.4 L1154.3,1329.7 L1155.2,1315.0 L1156.1,1300.3 L1157.0,1285.8 L1157.8,1271.9 L1158.7,1259.4 L1159.6,1249.5 L1160.4,1242.8 L1161.3,1239.2 L1162.2,1237.7 L1163.0,1237.2 L1163.9,1237.1 L1164.8,1237.1 L1165.7,1237.1 L1166.5,1237.1 L1167.4,1237.1 L1168.3,1237.1 L1169.1,1237.1 L1170.0,1237.1 L1170.9,1237.3 L1171.7,1238.0 L1172.6,1239.8 L1173.5,1243.9 L1174.3,1250.7 L1175.2,1260.2 L1176.1,1271.4 L1177.0,1283.6 L1177.8,1296.0 L1178.7,1308.5 L1179.6,1321.1 L1180.4,1333.6 L1181.3,1346.1 L1182.2,1358.6 L1183.0,1371.2 L1183.9,1383.7 L1184.8,1396.2 L1185.7,1408.8 L1186.5,1421.2 L1187.4,1433.5 L1188.3,1445.2 L1189.1,1455.6 L1190.0,1463.5 L1190.9,1468.6 L1191.7,1471.3 L1192.6,1472.3 L1193.5,1472.6 L1194.3,1472.6 L1195.2,1472.7 L1196.1,1472.7 L1197.0,1472.6 L1197.8,1472.4 L1198.7,1471.6 L1199.6,1469.4 L1200.4,1464.9 L1201.3,1457.5 L1202.2,1447.7 L1203.0,1436.3 L1203.9,1424.2 L1204.8,1411.9 L1205.7,1399.5 L1206.5,1387.1 L1207.4,1374.7 L1208.3,1362.3 L1209.1,1349.9 L1210.0,1337.5 L1210.9,1325.1 L1211.7,1312.7 L1212.6,1300.3 L1213.5,1288.0 L1214.3,1275.8 L1215.2,1264.2 L1216.1,1254.0 L1217.0,1246.1 L1217.8,1241.1 L1218.7,1238.5 L1219.6,1237.5 L1220.4,1237.2 L1221.3,1237.1 L1222.2,1237.1 L1223.0,1237.1 L1223.9,1237.1 L1224.8,1237.1 L1225.7,1237.1 L1226.5,1237.1 L1227.4,1237.1 L1228.3,1237.3 L1229.1,1237.9 L1230.0,1239.5 L1230.9,1242.9 L1231.7,1248.3 L1232.6,1255.5 L1233.5,1263.9 L1234.3,1272.8 L1235.2,1281.9 L1236.1,1291.1 L1237.0,1300.2 L1237.8,1309.4 L1238.7,1318.5 L1239.6,1327.7 L1240.4,1336.8 L1241.3,1345.9 L1242.2,1355.1 L1243.0,1364.2 L1243.9,1373.4 L1244.8,1382.5 L1245.7,1391.7 L1246.5,1400.8 L1247.4,1410.0 L1248.3,1419.1 L1249.1,1428.3 L1250.0,1437.4 L1250.9,1446.5 L1251.7,1455.3 L1252.6,1463.5 L1253.5,1470.5 L1254.3,1475.5 L1255.2,1478.4 L1256.1,1479.7 L1257.0,1479.7 L1257.8,1478.7 L1258.7,1475.8 L1259.6,1470.3 L1260.4,1462.2 L1261.3,1452.0 L1262.2,1440.6 L1263.0,1428.8 L1263.9,1416.9 L1264.8,1404.9 L1265.7,1392.9 L1266.5,1380.9 L1267.4,1368.9 L1268.3,1357.0 L1269.1,1345.0 L1270.0,1333.0 L1270.9,1321.0 L1271.7,1309.0 L1272.6,1297.0 L1273.5,1285.1 L1274.3,1273.4 L1275.2,1262.2 L1276.1,1252.5 L1277.0,1245.2 L1277.8,1240.6 L1278.7,1238.3 L1279.6,1237.4 L1280.4,1237.2 L1281.3,1237.1 L1282.2,1237.1 L1283.0,1237.1 L1283.9,1237.1 L1284.8,1237.1 L1285.7,1237.1 L1286.5,1237.1 L1287.4,1237.1 L1288.3,1237.1 L1289.1,1237.1 L1290.0,1237.1 L1290.9,1237.1 L1291.7,1237.1 L1292.6,1237.1 L1293.5,1237.1 L1294.3,1237.1 L1295.2,1237.1 L1296.1,1237.1 L1297.0,1237.1 L1297.8,1237.1 L1298.7,1237.1 L1299.6,1237.1 L1300.4,1237.1 L1301.3,1237.1 L1302.2,1237.1 L1303.0,1237.1 L1303.9,1237.1 L1304.8,1237.1 L1305.7,1237.1 L1306.5,1237.1 L1307.4,1237.1 L1308.3,1237.1 L1309.1,1237.1 L1310.0,1237.1 L1310.9,1237.1 L1311.7,1237.1 L1312.6,1237.1 L1313.5,1237.1 L1314.3,1237.1 L1315.2,1237.1 L1316.1,1237.1 L1317.0,1237.1" stroke="#505050"/>
<path d="M365.7,2010.7 L366.5,2010.7 L367.4,2010.7 L368.3,2010.7 L369.1,2010.7 L370.0,2010.7 L370.9,2010.7 L371.7,2010.7 L372.6,2010.7 L373.5,2010.7 L374.3,2010.7 L375.2,2010.7 L376.1,2010.7 L377.0,2010.7 L377.8,2010.7 L378.7,2010.7 L379.6,2010.7 L380.4,2010.7 L381.3,2010.7 L382.2,2010.7 L383.0,2010.7 L383.9,2010.7 L384.8,2010.7 L385.7,2010.7 L386.5,2010.7 L387.4,2010.7 L388.3,2010.7 L389.1,2010.7 L390.0,2010.7 L390.9,2010.7 L391.7,2010.7 L392.6,2010.7 L393.5,2010.7 L394.3,2010.7 L395.2,2010.7 L396.1,2010.7 L397.0,2010.7 L397.8,2010.7 L398.7,2010.7 L399.6,2010.7 L400.4,2010.7 L401.3,2010.7 L402.2,2010.7 L403.0,2010.7 L403.9,2010.7 L404.8,2010.7 L405.7,2010.7 L406.5,2010.7 L407.4,2010.7 L408.3,2010.7 L409.1,2010.7 L410.0,2010.7 L410.9,2010.7 L411.7,2010.7 L412.6,2010.7 L413.5,2010.7 L414.3,2010.7 L415.2,2010.7 L416.1,2010.7 L417.0,2010.7 L417.8,2010.7 L418.7,2010.7 L419.6,2010.7 L420.4,2010.6 L421.3,2010.1 L422.2,2008.7 L423.0,2005.5 L423.9,1999.7 L424.8,1991.4 L425.7,1981.2 L426.5,1970.1 L427.4,1958.6 L428.3,1947.1 L429.1,1935.5 L430.0,1924.0 L430.9,1912.4 L431.7,1900.8 L432.6,1889.3 L433.5,1877.7 L434.3,1866.1 L435.2,1854.6 L436.1,1843.0 L437.0,1831.4 L437.8,1819.9 L438.7,1808.6 L439.6,1797.9 L440.4,1788.5 L441.3,1781.4 L442.2,1776.9 L443.0,1774.7 L443.9,1773.9 L444.8,1773.6 L445.7,1773.6 L446.5,1773.6 L447.4,1773.6 L448.3,1773.6 L449.1,1773.8 L450.0,1774.5 L450.9,1776.3 L451.7,1779.9 L452.6,1785.6 L453.5,1793.1 L454.3,1801.7 L455.2,1810.8 L456.1,1820.1 L457.0,1829.4 L457.8,1838.7 L458.7,1848.0 L459.6,1857.3 L460.4,1866.6 L461.3,1875.9 L462.2,1885.2 L463.0,1894.5 L463.9,1903.8 L464.8,1913.1 L465.7,1922.4 L466.5,1931.7 L467.4,1941.0 L468.3,1950.3 L469.1,1959.6 L470.0,1968.8 L470.9,1978.0 L471.7,1987.0 L472.6,1995.1 L473.5,2001.8 L474.3,2006.5 L475.2,2009.1 L476.1,2010.2 L477.0,2010.6 L477.8,2010.7 L478.7,2010.7 L479.6,2010.7 L480.4,2010.7 L481.3,2010.7 L482.2,2010.7 L483.0,2010.7 L483.9,2010.7 L484.8,2010.6 L485.7,2010.2 L486.5,2009.1 L487.4,2006.5 L488.3,2001.9 L489.1,1995.2 L490.0,1987.0 L490.9,1978.1 L491.7,1968.9 L492.6,1959.7 L493.5,1950.4 L494.3,1941.1 L495.2,1931.8 L496.1,1922.5 L497.0,1913.3 L497.8,1904.0 L498.7,1894.7 L499.6,1885.4 L500.4,1876.1 L501.3,1866.9 L502.2,1857.6 L503.0,1848.3 L503.9,1839.0 L504.8,1829.7 L505.7,1820.5 L506.5,1811.2 L507.4,1802.0 L508.3,1792.9 L509.1,1784.5 L510.0,1777.3 L510.9,1772.1 L511.7,1768.9 L512.6,1767.4 L513.5,1767.2 L514.3,1768.1 L515.2,1770.7 L516.1,1775.6 L517.0,1783.2 L517.8,1792.7 L518.7,1803.5 L519.6,1814.8 L520.4,1826.2 L521.3,1837.7 L522.2,1849.1 L523.0,1860.6 L523.9,1872.0 L524.8,1883.5 L525.7,1895.0 L526.5,1906.4 L527.4,1917.9 L528.3,1929.3 L529.1,1940.8 L530.0,1952.3 L530.9,1963.7 L531.7,1974.9 L532.6,1985.6 L533.5,1995.1 L534.3,2002.3 L535.2,2007.0 L536.1,2009.4 L537.0,2010.3 L537.8,2010.6 L538.7,2010.7 L539.6,2010.7 L540.4,2010.7 L541.3,2010.7 L542.2,2010.7 L543.0,2010.7 L543.9,2010.7 L544.8,2010.7 L545.7,2010.4 L546.5,2009.7 L547.4,2007.8 L548.3,2003.7 L549.1,1997.2 L550.0,1988.4 L550.9,1978.2 L551.7,1967.4 L552.6,1956.4 L553.5,1945.3 L554.3,1934.2 L555.2,1923.2 L556.1,1912.1 L557.0,1901.0 L557.8,1889.9 L558.7,1878.9 L559.6,1867.8 L560.4,1856.7 L561.3,1845.6 L562.2,1834.5 L563.0,1823.5 L563.9,1812.5 L564.8,1801.9 L565.7,1792.1 L566.5,1784.1 L567.4,1778.6 L568.3,1775.5 L569.1,1774.2 L570.0,1773.7 L570.9,1773.6 L571.7,1773.6 L572.6,1773.6 L573.5,1773.6 L574.3,1773.7 L575.2,1774.2 L576.1,1775.6 L577.0,1779.0 L577.8,1784.9 L578.7,1793.4 L579.6,1803.8 L580.4,1815.2 L581.3,1827.0 L582.2,1838.8 L583.0,1850.7 L583.9,1862.5 L584.8,1874.4 L585.7,1886.2 L586.5,1898.1 L587.4,1909.9 L588.3,1921.8 L589.1,1933.6 L590.0,1945.5 L590.9,1957.3 L591.7,1969.1 L592.6,1980.5 L593.5,1990.9 L594.3,1999.4 L595.2,2005.3 L596.1,2008.7 L597.0,2010.1 L597.8,2010.6 L598.7,2010.7 L599.6,2010.7 L600.4,2010.7 L601.3,2010.7 L602.2,2010.7 L603.0,2010.7 L603.9,2010.7 L604.8,2010.7 L605.7,2010.6 L606.5,2010.1 L607.4,2008.8 L608.3,2005.7 L609.1,2000.1 L610.0,1992.2 L610.9,1982.4 L611.7,1971.8 L612.6,1960.8 L613.5,1949.8 L614.3,1938.7 L615.2,1927.6 L616.1,1916.5 L617.0,1905.4 L617.8,1894.4 L618.7,1883.3 L619.6,1872.2 L620.4,1861.1 L621.3,1850.0 L622.2,1839.0 L623.0,1827.9 L623.9,1816.9 L624.8,1806.1 L625.7,1795.9 L626.5,1787.1 L627.4,1780.6 L628.3,1776.5 L629.1,1774.6 L630.0,1773.8 L630.9,1773.6 L631.7,1773.6 L632.6,1773.6 L633.5,1773.6 L634.3,1773.7 L635.2,1773.9 L636.1,1774.8 L637.0,1777.1 L637.8,1781.6 L638.7,1788.6 L639.6,1797.6 L640.4,1807.9 L641.3,1818.6 L642.2,1829.6 L643.0,1840.6 L643.9,1851.5 L644.8,1862.5 L645.7,1873.5 L646.5,1884.5 L647.4,1895.4 L648.3,1906.4 L649.1,1917.4 L650.0,1928.4 L650.9,1939.3 L651.7,1950.3 L652.6,1961.3 L653.5,1972.2 L654.3,1982.7 L655.2,1992.3 L656.1,2000.2 L657.0,2005.7 L657.8,2008.8 L658.7,2010.1 L659.6,2010.6 L660.4,2010.7 L661.3,2010.7 L662.2,2010.7 L663.0,2010.7 L663.9,2010.7 L664.8,2010.7 L665.7,2010.7 L666.5,2010.7 L667.4,2010.6 L668.3,2010.1 L669.1,2008.7 L670.0,2005.3 L670.9,1999.4 L671.7,1990.9 L672.6,1980.5 L673.5,1969.1 L674.3,1957.3 L675.2,1945.5 L676.1,1933.6 L677.0,1921.8 L677.8,1909.9 L678.7,1898.1 L679.6,1886.2 L680.4,1874.4 L681.3,1862.5 L682.2,1850.7 L683.0,1838.8 L683.9,1827.0 L684.8,1815.2 L685.7,1803.8 L686.5,1793.4 L687.4,1784.9 L688.3,1779.0 L689.1,1775.6 L690.0,1774.2 L690.9,1773.7 L691.7,1773.6 L692.6,1773.6 L693.5,1773.6 L694.3,1773.6 L695.2,1773.7 L696.1,1774.2 L697.0,1775.7 L697.8,1779.1 L698.7,1785.1 L699.6,1793.8 L700.4,1804.5 L701.3,1816.1 L702.2,1828.1 L703.0,1840.1 L703.9,1852.2 L704.8,1864.3 L705.7,1876.4 L706.5,1888.5 L707.4,1900.6 L708.3,1912.7 L709.1,1924.8 L710.0,1936.9 L710.9,1949.0 L711.7,1961.0 L712.6,1972.9 L713.5,1984.2 L714.3,1994.2 L715.2,2001.9 L716.1,2006.8 L717.0,2009.3 L717.8,2010.3 L718.7,2010.6 L719.6,2010.7 L720.4,2010.7 L721.3,2010.7 L722.2,2010.7 L723.0,2010.7 L723.9,2010.7 L724.8,2010.7 L725.7,2010.6 L726.5,2010.4 L727.4,2009.6 L728.3,2007.5 L729.1,2003.2 L730.0,1996.2 L730.9,1986.7 L731.7,1975.8 L732.6,1964.2 L733.5,1952.3 L734.3,1940.4 L735.2,1928.5 L736.1,1916.6 L737.0,1904.7 L737.8,1892.7 L738.7,1880.8 L739.6,1868.9 L740.4,1857.0 L741.3,1845.1 L742.2,1833.2 L743.0,1821.3 L743.9,1809.6 L744.8,1798.6 L745.7,1788.9 L746.5,1781.6 L747.4,1777.0 L748.3,1774.8 L749.1,1773.9 L750.0,1773.7 L750.9,1773.6 L751.7,1773.6 L752.6,1773.6 L753.5,1773.7 L754.3,1773.9 L755.2,1774.8 L756.1,1777.0 L757.0,1781.6 L757.8,1788.9 L758.7,1798.6 L759.6,1809.6 L760.4,1821.3 L761.3,1833.2 L762.2,1845.1 L763.0,1857.0 L763.9,1868.9 L764.8,1880.8 L765.7,1892.7 L766.5,1904.7 L767.4,1916.6 L768.3,1928.5 L769.1,1940.4 L770.0,1952.3 L770.9,1964.2 L771.7,1975.8 L772.6,1986.7 L773.5,1996.2 L774.3,2003.2 L775.2,2007.5 L776.1,2009.6 L777.0,2010.4 L777.8,2010.6 L778.7,2010.7 L779.6,2010.7 L780.4,2010.7 L781.3,2010.7 L782.2,2010.7 L783.0,2010.7 L783.9,2010.7 L784.8,2010.6 L785.7,2010.4 L786.5,2009.4 L787.4,2007.1 L788.3,2002.6 L789.1,1995.5 L790.0,1986.4 L790.9,1976.0 L791.7,1965.1 L792.6,1954.0 L793.5,1942.9 L794.3,1931.7 L795.2,1920.6 L796.1,1909.5 L797.0,1898.4 L797.8,1887.3 L798.7,1876.1 L799.6,1865.0 L800.4,1853.9 L801.3,1842.8 L802.2,1831.7 L803.0,1820.6 L803.9,1809.5 L804.8,1798.9 L805.7,1789.1 L806.5,1781.1 L807.4,1775.5 L808.3,1772.4 L809.1,1771.1 L810.0,1770.6 L810.9,1770.5 L811.7,1770.5 L812.6,1770.5 L813.5,1770.5 L814.3,1770.7 L815.2,1771.2 L816.1,1773.0 L817.0,1777.0 L817.8,1784.3 L818.7,1794.7 L819.6,1807.4 L820.4,1821.3 L821.3,1835.6 L822.2,1850.1 L823.0,1864.6 L823.9,1879.0 L824.8,1893.5 L825.7,1908.0 L826.5,1922.4 L827.4,1936.9 L828.3,1951.3 L829.1,1965.5 L830.0,1979.0 L830.9,1990.9 L831.7,2000.2 L832.6,2006.1 L833.5,2009.1 L834.3,2010.3 L835.2,2010.6 L836.1,2010.7 L837.0,2010.7 L837.8,2010.7 L838.7,2010.7 L839.6,2010.7 L840.4,2010.7 L841.3,2010.7 L842.2,2010.7 L843.0,2010.4 L843.9,2009.7 L844.8,2007.6 L845.7,2003.4 L846.5,1996.6 L847.4,1987.4 L848.3,1976.7 L849.1,1965.4 L850.0,1953.9 L850.9,1942.3 L851.7,1930.8 L852.6,1919.2 L853.5,1907.6 L854.3,1896.0 L855.2,1884.4 L856.1,1872.8 L857.0,1861.2 L857.8,1849.7 L858.7,1838.1 L859.6,1826.5 L860.4,1815.0 L861.3,1803.6 L862.2,1792.8 L863.0,1783.2 L863.9,1775.8 L864.8,1771.1 L865.7,1768.7 L866.5,1767.8 L867.4,1767.5 L868.3,1767.4 L869.1,1767.4 L870.0,1767.4 L870.9,1767.5 L871.7,1767.8 L872.6,1768.8 L873.5,1771.5 L874.3,1777.1 L875.2,1786.3 L876.1,1798.6 L877.0,1812.8 L877.8,1827.9 L878.7,1843.4 L879.6,1858.8 L880.4,1874.3 L881.3,1889.8 L882.2,1905.3 L883.0,1920.8 L883.9,1936.3 L884.8,1951.7 L885.7,1966.8 L886.5,1980.8 L887.4,1992.8 L888.3,2001.6 L889.1,2007.0 L890.0,2009.5 L890.9,2010.4 L891.7,2010.6 L892.6,2010.7 L893.5,2010.7 L894.3,2010.7 L895.2,2010.7 L896.1,2010.7 L897.0,2010.7 L897.8,2010.7 L898.7,2010.6 L899.6,2010.3 L900.4,2009.4 L901.3,2007.1 L902.2,2002.8 L903.0,1996.2 L903.9,1987.8 L904.8,1978.4 L905.7,1968.5 L906.5,1958.5 L907.4,1948.5 L908.3,1938.4 L909.1,1928.4 L910.0,1918.4 L910.9,1908.3 L911.7,1898.3 L912.6,1888.2 L913.5,1878.2 L914.3,1868.2 L915.2,1858.1 L916.1,1848.1 L917.0,1838.0 L917.8,1828.0 L918.7,1818.0 L919.6,1808.0 L920.4,1798.0 L921.3,1788.4 L922.2,1779.6 L923.0,1772.3 L923.9,1767.3 L924.8,1764.5 L925.7,1763.5 L926.5,1763.7 L927.4,1765.5 L928.3,1769.8 L929.1,1777.5 L930.0,1788.7 L930.9,1802.3 L931.7,1817.2 L932.6,1832.5 L933.5,1848.0 L934.3,1863.5 L935.2,1879.0 L936.1,1894.5 L937.0,1910.0 L937.8,1925.5 L938.7,1940.9 L939.6,1956.3 L940.4,1971.2 L941.3,1984.8 L942.2,1995.9 L943.0,2003.7 L943.9,2008.0 L944.8,2009.9 L945.7,2010.5 L946.5,2010.7 L947.4,2010.7 L948.3,2010.7 L949.1,2010.7 L950.0,2010.7 L950.9,2010.7 L951.7,2010.7 L952.6,2010.7 L953.5,2010.6 L954.3,2010.1 L955.2,2008.7 L956.1,2005.3 L957.0,1999.4 L957.8,1990.9 L958.7,1980.5 L959.6,1969.1 L960.4,1957.3 L961.3,1945.5 L962.2,1933.7 L963.0,1921.8 L963.9,1910.0 L964.8,1898.1 L965.7,1886.2 L966.5,1874.4 L967.4,1862.5 L968.3,1850.7 L969.1,1838.8 L970.0,1827.0 L970.9,1815.2 L971.7,1803.8 L972.6,1793.1 L973.5,1784.2 L974.3,1777.7 L975.2,1773.9 L976.1,1772.1 L977.0,1771.5 L977.8,1771.3 L978.7,1771.3 L979.6,1771.3 L980.4,1771.3 L981.3,1771.4 L982.2,1772.0 L983.0,1773.7 L983.9,1778.0 L984.8,1785.9 L985.7,1797.6 L986.5,1812.4 L987.4,1828.8 L988.3,1845.9 L989.1,1863.2 L990.0,1880.6 L990.9,1897.9 L991.7,1915.3 L992.6,1932.6 L993.5,1949.8 L994.3,1966.4 L995.2,1981.7 L996.1,1994.2 L997.0,2002.9 L997.8,2007.7 L998.7,2009.8 L999.6,2010.5 L1000.4,2010.7 L1001.3,2010.7 L1002.2,2010.7 L1003.0,2010.7 L1003.9,2010.7 L1004.8,2010.7 L1005.7,2010.7 L1006.5,2010.7 L1007.4,2010.6 L1008.3,2010.1 L1009.1,2008.6 L1010.0,2005.1 L1010.9,1998.9 L1011.7,1990.1 L1012.6,1979.2 L1013.5,1967.4 L1014.3,1955.1 L1015.2,1942.8 L1016.1,1930.5 L1017.0,1918.1 L1017.8,1905.8 L1018.7,1893.5 L1019.6,1881.1 L1020.4,1868.8 L1021.3,1856.4 L1022.2,1844.1 L1023.0,1831.8 L1023.9,1819.5 L1024.8,1807.4 L1025.7,1796.1 L1026.5,1786.3 L1027.4,1779.0 L1028.3,1774.5 L1029.1,1772.4 L1030.0,1771.5 L1030.9,1771.3 L1031.7,1771.3 L1032.6,1771.3 L1033.5,1771.3 L1034.3,1771.4 L1035.2,1771.8 L1036.1,1773.1 L1037.0,1776.4 L1037.8,1783.0 L1038.7,1793.2 L1039.6,1806.4 L1040.4,1821.4 L1041.3,1837.2 L1042.2,1853.2 L1043.0,1869.3 L1043.9,1885.4 L1044.8,1901.4 L1045.7,1917.5 L1046.5,1933.5 L1047.4,1949.5 L1048.3,1965.1 L1049.1,1979.7 L1050.0,1992.2 L1050.9,2001.3 L1051.7,2006.8 L1052.6,2009.4 L1053.5,2010.4 L1054.3,2010.6 L1055.2,2010.7 L1056.1,2010.7 L1057.0,2010.7 L1057.8,2010.7 L1058.7,2010.7 L1059.6,2010.7 L1060.4,2010.7 L1061.3,2010.6 L1062.2,2010.1 L1063.0,2008.7 L1063.9,2005.3 L1064.8,1998.6 L1065.7,1988.5 L1066.5,1975.6 L1067.4,1961.1 L1068.3,1946.0 L1069.1,1930.6 L1070.0,1915.2 L1070.9,1899.9 L1071.7,1884.5 L1072.6,1869.1 L1073.5,1853.7 L1074.3,1838.3 L1075.2,1823.3 L1076.1,1809.0 L1077.0,1796.5 L1077.8,1787.0 L1078.7,1781.1 L1079.6,1778.2 L1080.4,1777.1 L1081.3,1776.8 L1082.2,1776.7 L1083.0,1776.7 L1083.9,1776.7 L1084.8,1776.7 L1085.7,1777.0 L1086.5,1777.9 L1087.4,1780.3 L1088.3,1785.1 L1089.1,1792.7 L1090.0,1802.8 L1090.9,1814.3 L1091.7,1826.5 L1092.6,1838.9 L1093.5,1851.4 L1094.3,1863.8 L1095.2,1876.3 L1096.1,1888.7 L1097.0,1901.2 L1097.8,1913.6 L1098.7,1926.1 L1099.6,1938.5 L1100.4,1950.9 L1101.3,1963.3 L1102.2,1975.4 L1103.0,1986.7 L1103.9,1996.3 L1104.8,2003.4 L1105.7,2007.7 L1106.5,2009.7 L1107.4,2010.5 L1108.3,2010.7 L1109.1,2010.7 L1110.0,2010.7 L1110.9,2010.7 L1111.7,2010.7 L1112.6,2010.7 L1113.5,2010.7 L1114.3,2010.7 L1115.2,2010.6 L1116.1,2010.2 L1117.0,2009.1 L1117.8,2006.2 L1118.7,2000.8 L1119.6,1992.5 L1120.4,1981.9 L1121.3,1970.1 L1122.2,1957.7 L1123.0,1945.1 L1123.9,1932.5 L1124.8,1919.9 L1125.7,1907.2 L1126.5,1894.6 L1127.4,1882.0 L1128.3,1869.4 L1129.1,1856.8 L1130.0,1844.2 L1130.9,1831.6 L1131.7,1819.0 L1132.6,1806.7 L1133.5,1795.1 L1134.3,1785.1 L1135.2,1777.7 L1136.1,1773.1 L1137.0,1770.8 L1137.8,1770.0 L1138.7,1769.8 L1139.6,1769.7 L1140.4,1769.7 L1141.3,1769.7 L1142.2,1769.8 L1143.0,1770.2 L1143.9,1771.4 L1144.8,1774.4 L1145.7,1780.4 L1146.5,1789.8 L1147.4,1801.9 L1148.3,1815.6 L1149.1,1830.0 L1150.0,1844.7 L1150.9,1859.4 L1151.7,1874.0 L1152.6,1888.7 L1153.5,1903.4 L1154.3,1918.1 L1155.2,1932.8 L1156.1,1947.5 L1157.0,1962.0 L1157.8,1975.9 L1158.7,1988.4 L1159.6,1998.3 L1160.4,2005.0 L1161.3,2008.6 L1162.2,2010.1 L1163.0,2010.6 L1163.9,2010.7 L1164.8,2010.7 L1165.7,2010.7 L1166.5,2010.7 L1167.4,2010.7 L1168.3,2010.7 L1169.1,2010.7 L1170.0,2010.7 L1170.9,2010.5 L1171.7,2009.8 L1172.6,2008.0 L1173.5,2003.9 L1174.3,1997.1 L1175.2,1987.6 L1176.1,1976.4 L1177.0,1964.2 L1177.8,1951.8 L1178.7,1939.3 L1179.6,1926.7 L1180.4,1914.2 L1181.3,1901.7 L1182.2,1889.2 L1183.0,1876.6 L1183.9,1864.1 L1184.8,1851.6 L1185.7,1839.0 L1186.5,1826.6 L1187.4,1814.3 L1188.3,1802.6 L1189.1,1792.2 L1190.0,1784.3 L1190.9,1779.2 L1191.7,1776.5 L1192.6,1775.5 L1193.5,1775.2 L1194.3,1775.2 L1195.2,1775.1 L1196.1,1775.1 L1197.0,1775.2 L1197.8,1775.4 L1198.7,1776.2 L1199.6,1778.4 L1200.4,1782.9 L1201.3,1790.3 L1202.2,1800.1 L1203.0,1811.5 L1203.9,1823.6 L1204.8,1835.9 L1205.7,1848.3 L1206.5,1860.7 L1207.4,1873.1 L1208.3,1885.5 L1209.1,1897.9 L1210.0,1910.3 L1210.9,1922.7 L1211.7,1935.1 L1212.6,1947.5 L1213.5,1959.8 L1214.3,1972.0 L1215.2,1983.6 L1216.1,1993.8 L1217.0,2001.7 L1217.8,2006.7 L1218.7,2009.3 L1219.6,2010.3 L1220.4,2010.6 L1221.3,2010.7 L1222.2,2010.7 L1223.0,2010.7 L1223.9,2010.7 L1224.8,2010.7 L1225.7,2010.7 L1226.5,2010.7 L1227.4,2010.7 L1228.3,2010.5 L1229.1,2009.9 L1230.0,2008.3 L1230.9,2004.9 L1231.7,1999.5 L1232.6,1992.3 L1233.5,1983.9 L1234.3,1975.0 L1235.2,1965.9 L1236.1,1956.7 L1237.0,1947.6 L1237.8,1938.4 L1238.7,1929.3 L1239.6,1920.1 L1240.4,1911.0 L1241.3,1901.9 L1242.2,1892.7 L1243.0,1883.6 L1243.9,1874.4 L1244.8,1865.3 L1245.7,1856.1 L1246.5,1847.0 L1247.4,1837.8 L1248.3,1828.7 L1249.1,1819.5 L1250.0,1810.4 L1250.9,1801.3 L1251.7,1792.5 L1252.6,1784.3 L1253.5,1777.3 L1254.3,1772.3 L1255.2,1769.4 L1256.1,1768.1 L1257.0,1768.1 L1257.8,1769.1 L1258.7,1772.0 L1259.6,1777.5 L1260.4,1785.6 L1261.3,1795.8 L1262.2,1807.2 L1263.0,1819.0 L1263.9,1830.9 L1264.8,1842.9 L1265.7,1854.9 L1266.5,1866.9 L1267.4,1878.9 L1268.3,1890.8 L1269.1,1902.8 L1270.0,1914.8 L1270.9,1926.8 L1271.7,1938.8 L1272.6,1950.8 L1273.5,1962.7 L1274.3,1974.4 L1275.2,1985.6 L1276.1,1995.3 L1277.0,2002.6 L1277.8,2007.2 L1278.7,2009.5 L1279.6,2010.4 L1280.4,2010.6 L1281.3,2010.7 L1282.2,2010.7 L1283.0,2010.7 L1283.9,2010.7 L1284.8,2010.7 L1285.7,2010.7 L1286.5,2010.7 L1287.4,2010.7 L1288.3,2010.7 L1289.1,2010.7 L1290.0,2010.7 L1290.9,2010.7 L1291.7,2010.7 L1292.6,2010.7 L1293.5,2010.7 L1294.3,2010.7 L1295.2,2010.7 L1296.1,2010.7 L1297.0,2010.7 L1297.8,2010.7 L1298.7,2010.7 L1299.6,2010.7 L1300.4,2010.7 L1301.3,2010.7 L1302.2,2010.7 L1303.0,2010.7 L1303.9,2010.7 L1304.8,2010.7 L1305.7,2010.7 L1306.5,2010.7 L1307.4,2010.7 L1308.3,2010.7 L1309.1,2010.7 L1310.0,2010.7 L1310.9,2010.7 L1311.7,2010.7 L1312.6,2010.7 L1313.5,2010.7 L1314.3,2010.7 L1315.2,2010.7 L1316.1,2010.7 L1317.0,2010.7" stroke="#ee3b3b"/>
</g>
<rect x="248.6" y="1149" width="1414.4" height="4.2" fill="#999"/>
<rect x="718" y="1149" width="225" height="4.2" fill="#000"/>
<rect x="264" y="2040.5" width="1384" height="4" fill="#888"/>
<g fill="#000">
<rect x="248.6" y="1149.6" width="15.6" height="906.7"/>
<rect x="1647.2" y="1149.6" width="15.8" height="906.7"/>
<rect x="248.6" y="1153" width="1414.4" height="11.9"/>
<rect x="248.6" y="2044.3" width="1414.4" height="12"/>
<rect x="262" y="2003.5" width="18.8" height="14.4"/>
<rect x="1632" y="2003.5" width="18" height="14.4"/>
<rect x="262" y="1848.8" width="18.8" height="14.4"/>
<rect x="1632" y="1848.8" width="18" height="14.4"/>
<rect x="262" y="1694.1" width="18.8" height="14.4"/>
<rect x="1632" y="1694.1" width="18" height="14.4"/>
<rect x="262" y="1539.3" width="18.8" height="14.4"/>
<rect x="1632" y="1539.3" width="18" height="14.4"/>
<rect x="262" y="1384.6" width="18.8" height="14.4"/>
<rect x="1632" y="1384.6" width="18" height="14.4"/>
<rect x="262" y="1229.9" width="18.8" height="14.4"/>
<rect x="1632" y="1229.9" width="18" height="14.4"/>
<rect x="262" y="1926.1" width="9" height="14.4"/>
<rect x="1640" y="1926.1" width="10" height="14.4"/>
<rect x="262" y="1771.4" width="9" height="14.4"/>
<rect x="1640" y="1771.4" width="10" height="14.4"/>
<rect x="262" y="1616.7" width="9" height="14.4"/>
<rect x="1640" y="1616.7" width="10" height="14.4"/>
<rect x="262" y="1462.0" width="9" height="14.4"/>
<rect x="1640" y="1462.0" width="10" height="14.4"/>
<rect x="262" y="1307.3" width="9" height="14.4"/>
<rect x="1640" y="1307.3" width="10" height="14.4"/>
<rect x="415.1" y="1162" width="14.4" height="14.6"/>
<rect x="415.1" y="2031.6" width="14.4" height="14"/>
<rect x="743.9" y="1162" width="14.4" height="14.6"/>
<rect x="743.9" y="2031.6" width="14.4" height="14"/>
<rect x="1072.7" y="1162" width="14.4" height="14.6"/>
<rect x="1072.7" y="2031.6" width="14.4" height="14"/>
<rect x="1401.5" y="1162" width="14.4" height="14.6"/>
<rect x="1401.5" y="2031.6" width="14.4" height="14"/>
<rect x="579.5" y="1162" width="14.4" height="6.2" fill="#333"/>
<rect x="579.5" y="2039.3" width="14.4" height="6" fill="#222"/>
<rect x="908.3" y="1162" width="14.4" height="6.2" fill="#333"/>
<rect x="908.3" y="2039.3" width="14.4" height="6" fill="#222"/>
<rect x="1237.1" y="1162" width="14.4" height="6.2" fill="#333"/>
<rect x="1237.1" y="2039.3" width="14.4" height="6" fill="#222"/>
<rect x="1565.9" y="1162" width="14.4" height="6.2" fill="#333"/>
<rect x="1565.9" y="2039.3" width="14.4" height="6" fill="#222"/>
</g>
<text class="sb" transform="translate(232.6,2023.5) scale(1.224,1)" font-size="51.6" text-anchor="end">0</text>
<text class="sb" transform="translate(232.6,1868.8) scale(1.224,1)" font-size="51.6" text-anchor="end">20</text>
<text class="sb" transform="translate(232.6,1714.1) scale(1.224,1)" font-size="51.6" text-anchor="end">40</text>
<text class="sb" transform="translate(232.6,1559.3) scale(1.224,1)" font-size="51.6" text-anchor="end">60</text>
<text class="sb" transform="translate(232.6,1404.6) scale(1.224,1)" font-size="51.6" text-anchor="end">80</text>
<text class="sb" transform="translate(232.6,1249.9) scale(1.224,1)" font-size="51.6" text-anchor="end">100</text>
<text class="sb" transform="translate(422.5,2108.3) scale(1.26,1)" font-size="51" text-anchor="middle">0.0</text>
<text class="sb" transform="translate(751.3,2108.3) scale(1.26,1)" font-size="51" text-anchor="middle">0.2</text>
<text class="sb" transform="translate(1080.1,2108.3) scale(1.26,1)" font-size="51" text-anchor="middle">0.4</text>
<text class="sb" transform="translate(1408.9,2108.3) scale(1.26,1)" font-size="51" text-anchor="middle">0.6</text>
<text class="tb" transform="translate(775.4,2205) scale(1.058,1)" font-size="79.5">Position(nm)</text>
<text class="tb" transform="translate(85.2,1748.8) rotate(-90)" font-size="85.4">Atom%</text>
</g>
</svg></body></html>
